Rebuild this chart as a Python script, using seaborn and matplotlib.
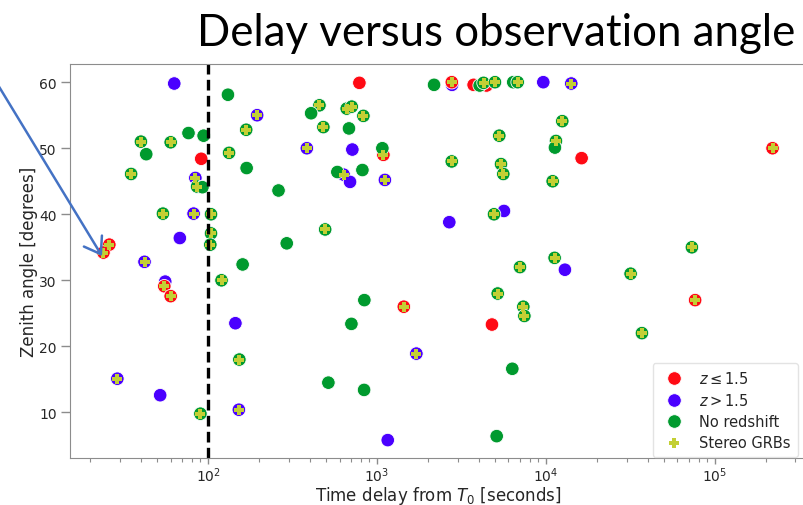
import numpy as np
import pandas as pd
import matplotlib
matplotlib.use("Agg")
from matplotlib import pyplot as plt
import seaborn as sns

# ---------------- data ----------------
# z <= 1.5 (red)
red_delay = [91, 26, 24, 55, 60, 786, 2770, 3730, 4450, 1090, 1440, 4790, 16260, 219500, 76400]
red_angle = [48.4, 35.4, 34.2, 29.1, 27.6, 59.9, 60.0, 59.6, 59.5, 49.0, 26.0, 23.3, 48.5, 50.0, 27.0]
red_stereo = [0, 1, 1, 1, 1, 0, 1, 0, 0, 1, 1, 0, 0, 1, 1]

# z > 1.5 (blue)
blue_delay = [63, 195, 84, 82, 68, 42, 55.7, 145, 29, 52, 152, 2780, 384, 714, 634, 692,
              1113, 2677, 5642, 1709, 1157, 9640, 14120, 12950]
blue_angle = [59.8, 55.0, 45.5, 40.1, 36.4, 32.8, 29.8, 23.5, 15.1, 12.6, 10.4, 59.6, 50.0, 49.8,
              46.0, 44.9, 45.2, 38.8, 40.5, 18.9, 5.8, 60.0, 59.8, 31.6]
blue_stereo = [0, 1, 1, 1, 0, 1, 0, 0, 1, 0, 1, 0, 1, 0, 1, 0, 1, 0, 0, 1, 0, 0, 1, 0]

# no redshift (green)
green_delay = [131, 168, 76.5, 94, 40, 60, 43, 133, 169, 35, 86, 92.5, 54, 104, 104, 103, 160, 120,
               153, 90, 2175, 4050, 4270, 4990, 6400, 6800, 456, 407, 661, 708, 830, 481, 682,
               1075, 582, 819, 261, 2768, 5292, 5418, 5590, 4925, 493, 292, 7017, 5179, 841,
               7343, 7450, 705, 6320, 515, 838, 5108, 12490, 11460, 11300, 10955, 73100, 11250,
               31700, 37000]
green_angle = [58.1, 52.8, 52.3, 51.9, 51.0, 50.9, 49.1, 49.3, 47.0, 46.1, 44.2, 44.1, 40.1, 40.0,
               37.1, 35.4, 32.4, 30.0, 18.0, 9.8, 59.6, 59.5, 59.9, 60.0, 60.0, 60.0, 56.5, 55.3,
               56.0, 56.3, 54.9, 53.2, 53.0, 50.0, 46.4, 46.7, 43.6, 48.0, 51.9, 47.6, 46.1, 40.0,
               37.7, 35.6, 32.0, 28.0, 27.0, 26.0, 24.6, 23.4, 16.6, 14.5, 13.4, 6.4, 54.1, 51.1,
               50.1, 45.0, 35.0, 33.4, 31.0, 22.0]
green_stereo = [0, 1, 0, 0, 1, 1, 0, 1, 0, 1, 1, 0, 1, 1, 1, 1, 0, 1, 1, 1, 0, 0, 1, 1, 0, 1, 1, 0,
                1, 1, 1, 1, 0, 0, 0, 0, 0, 1, 1, 1, 1, 1, 1, 0, 1, 1, 0, 1, 1, 0, 0, 0, 0, 0, 1, 1,
                0, 1, 1, 1, 1, 1]

label_low = r"$z \leq 1.5$"
label_high = r"$z > 1.5$"
label_none = "No redshift"

# blue first, then red, then green (drawing order)
df = pd.concat([
    pd.DataFrame({"delay": blue_delay, "angle": blue_angle, "stereo": blue_stereo, "group": label_high}),
    pd.DataFrame({"delay": red_delay, "angle": red_angle, "stereo": red_stereo, "group": label_low}),
    pd.DataFrame({"delay": green_delay, "angle": green_angle, "stereo": green_stereo, "group": label_none}),
], ignore_index=True)

palette = {label_low: "#ff0a14", label_high: "#4a00ff", label_none: "#009a2e"}

sns.set_style("ticks", {"axes.edgecolor": "#8c8c8c", "xtick.color": "#8c8c8c", "ytick.color": "#8c8c8c"})
plt.rcParams["font.family"] = ["DejaVu Sans"]

fig = plt.figure(figsize=(8.04, 5.06), dpi=100)
ax = fig.add_axes([70 / 804, 1 - 459 / 506, (806 - 70) / 804, (459 - 65.3) / 506])

sns.scatterplot(data=df, x="delay", y="angle", hue="group", hue_order=[label_low, label_high, label_none],
                palette=palette, s=95, edgecolor="white", linewidth=0.6, ax=ax)
stereo = df[df["stereo"] == 1]
sns.scatterplot(data=stereo, x="delay", y="angle", marker="P", color="#c3cf34", s=55, linewidth=0,
                label="Stereo GRBs", ax=ax)

ax.set_xscale("log")
ax.axvline(100, color="black", linestyle=(0, (3.2, 1.6)), linewidth=2.4, zorder=1)

ax.set_yticks([10, 20, 30, 40, 50, 60])
ax.tick_params(axis="both", labelsize=10, labelcolor="#262626", length=6.5, width=1, pad=3)
ax.tick_params(axis="x", which="major", length=4.5, pad=0.5)
ax.tick_params(axis="x", which="minor", length=3, width=0.8)
ax.set_xlabel("Time delay from $T_0$ [seconds]", fontsize=12, color="#262626", labelpad=0)
ax.set_ylabel("Zenith angle [degrees]", fontsize=12, color="#262626", labelpad=1)

leg = ax.legend(loc="lower right", bbox_to_anchor=(798 / 804, 1 - 458 / 506), bbox_transform=fig.transFigure,
                borderaxespad=0, fontsize=10.5, frameon=True, handletextpad=0.7, labelspacing=0.4,
                borderpad=0.5)
leg.get_frame().set_edgecolor("#dddddd")

# slide title and pointer arrow
fig.text(795 / 804, 1 - 33 / 506, "Delay versus observation angle", ha="right", va="center",
         fontsize=31.5, family=["Lato", "DejaVu Sans"], color="black")
ax.annotate("", xy=(102 / 804, 1 - 257 / 506), xytext=(-2 / 804, 1 - 86 / 506),
            xycoords="figure fraction", textcoords="figure fraction",
            arrowprops=dict(arrowstyle="->,head_length=0.55,head_width=0.38", color="#4472c4", lw=1.8,
                            mutation_scale=20, shrinkA=0, shrinkB=0),
            annotation_clip=False)

fig.savefig("out.png", dpi=100)
